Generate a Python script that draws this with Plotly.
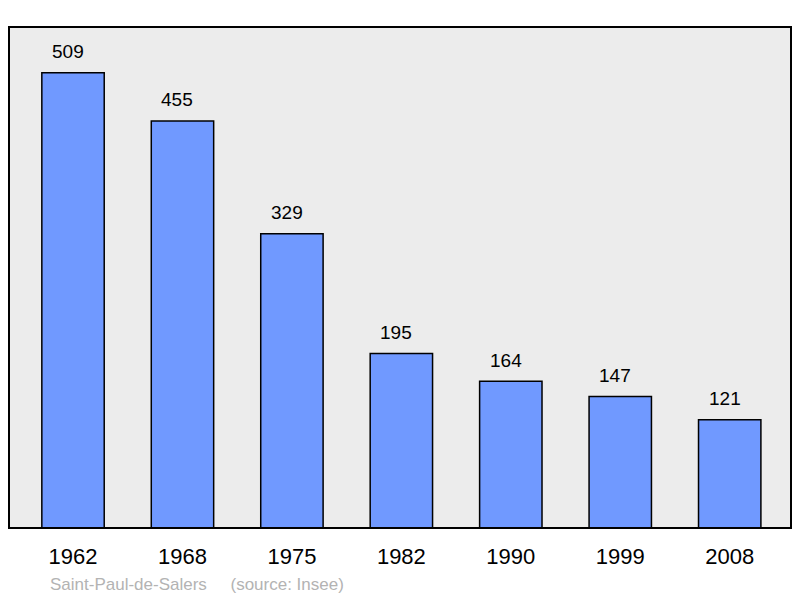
import plotly.graph_objects as go

years = ["1962", "1968", "1975", "1982", "1990", "1999", "2008"]
population = [509, 455, 329, 195, 164, 147, 121]
commune = "Saint-Paul-de-Salers"
source = "(source: Insee)"

W, H = 800, 598
L, R, T, B = 9, 9, 27, 70
FONT = "Liberation Sans, Arial, sans-serif"

fig = go.Figure()
fig.add_trace(go.Bar(
    x=list(range(len(years))), y=population,
    width=0.57,
    marker=dict(color="#7099ff", line=dict(color="#000000", width=1.5)),
    hoverinfo="skip",
))

for i, v in enumerate(population):
    fig.add_annotation(x=i, y=v, text=str(v), showarrow=False,
                       yshift=21, xshift=-5,
                       font=dict(size=19, color="#000000", family=FONT))

fig.update_layout(
    width=W, height=H,
    margin=dict(l=L, r=R, t=T, b=B),
    paper_bgcolor="#ffffff",
    plot_bgcolor="#ececec",
    showlegend=False,
    font=dict(family=FONT, color="#000000"),
    xaxis=dict(range=[-0.585, 6.56], tickmode="array",
               tickvals=list(range(len(years))), ticktext=years,
               showgrid=False, zeroline=False, showline=False,
               ticks="", tickfont=dict(size=22, family=FONT, color="#000000"),
               ticklabelstandoff=13),
    yaxis=dict(range=[0, 560], showgrid=False, zeroline=False,
               showline=False, showticklabels=False, ticks=""),
    shapes=[dict(type="rect", xref="paper", yref="paper", x0=0, x1=1, y0=0, y1=1,
                 line=dict(color="#000000", width=2), layer="above")],
)

fig.add_annotation(xref="paper", yref="paper", x=(48 - L) / (W - L - R),
                   y=-(584 - (H - B)) / (H - T - B), xanchor="left", yanchor="middle",
                   text=commune + "\u00a0\u00a0\u00a0\u00a0\u00a0" + source,
                   showarrow=False, font=dict(size=17, color="#b3b3b3", family=FONT))

fig.write_html("out.html", config={"displayModeBar": False},
               post_script="document.body.style.margin='0';document.body.style.overflow='hidden';")
